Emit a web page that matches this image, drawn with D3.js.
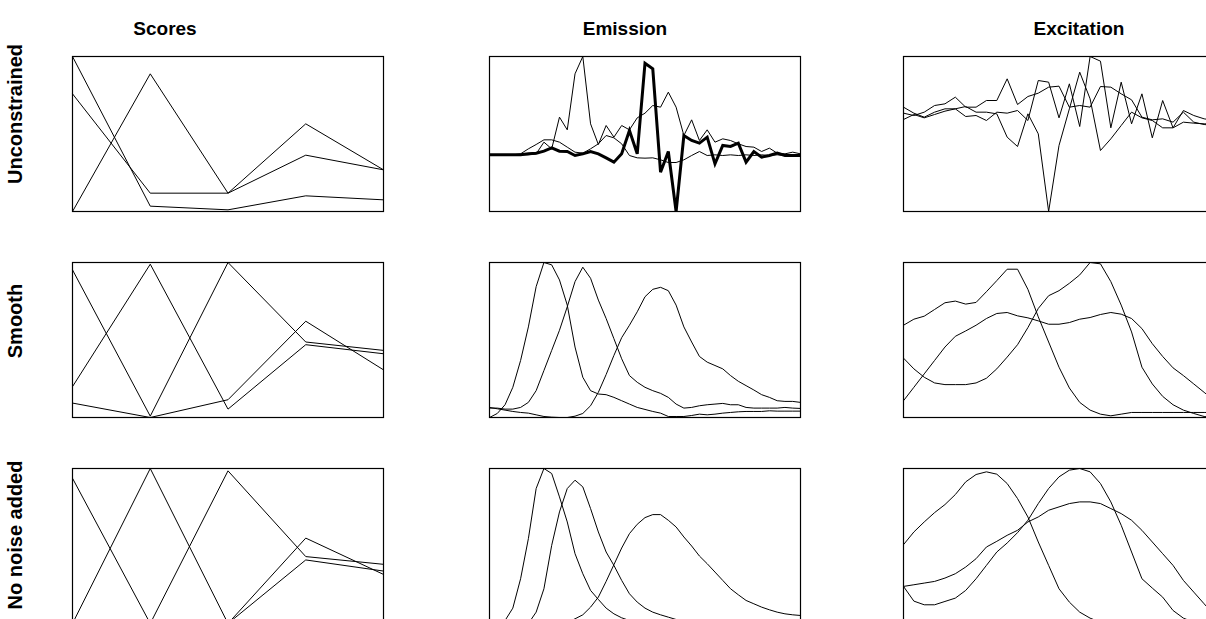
<!DOCTYPE html>
<html><head><meta charset="utf-8">
<script src="https://cdn.jsdelivr.net/npm/d3@7/dist/d3.min.js"></script>
<style>
body{margin:0;background:#fff;}
svg{display:block;}
text{font-family:"Liberation Sans",Arial,Helvetica,sans-serif;font-weight:bold;fill:#000;}
</style>
</head><body>
<svg id="chart" width="1206" height="619"></svg>
<script>
// ---------- labels ----------
const columnTitles = ["Scores", "Emission", "Excitation"];
const rowTitles = ["Unconstrained", "Smooth", "No noise added"];

// ---------- data (arbitrary intensity units, 3 components per panel) ----------
// Scores: 5 samples
const scoresUnconstrained = [
  [465, 16, 5, 47, 35],
  [353, 55, 55, 169, 125],
  [0, 413, 55, 263, 125]
];
const scoresSmooth = [
  [440, 4, 462, 225, 200],
  [92, 457, 25, 217, 190],
  [43, 0, 53, 287, 142]
];
const scoresNoNoise = [
  [432, 0, 454, 199, 176],
  [0, 461, 0, 254, 146],
  [0, 0, 0, 189, 156]
];

// Emission: 41 wavelengths
const emissionUnconstrained = [
  [170,170,170,170,170,173,175,181,191,181,180,168,173,180,173,161,148,173,243,173,445,428,118,180,0,228,213,205,223,143,198,195,205,148,180,163,168,175,168,168,168],
  [170,170,170,170,170,170,173,208,188,283,245,413,465,263,201,258,223,258,245,281,295,318,313,358,313,228,275,213,245,208,218,213,203,195,193,180,190,175,173,178,173],
  [170,170,170,170,173,188,201,215,215,208,193,178,175,188,203,228,221,203,168,161,160,161,155,147,147,155,168,180,168,170,168,170,168,170,168,170,168,170,168,170,170]
];
const emissionSmooth = [
  [0,12,38,90,170,270,390,462,455,410,335,210,120,80,70,68,60,50,40,30,24,18,13,3,3,3,6,10,8,10,13,15,17,18,18,18,20,19,19,19,19],
  [28,28,25,25,30,45,80,140,200,260,330,405,448,415,350,295,235,175,125,105,90,80,72,60,40,28,30,35,38,40,42,38,38,30,28,28,28,28,30,28,27],
  [30,26,22,18,15,13,8,3,1,0,0,4,12,35,75,128,185,238,275,315,360,382,388,378,335,270,225,182,165,155,145,125,108,95,82,68,60,50,48,48,45]
];
const emissionNoNoise = [
  [0,0,9,46,134,254,404,464,449,379,304,209,149,99,72,46,29,17,9,4,1,0,0,0,0,0,0,0,0,0,0,0,0,0,0,0,0,0,0,0,0],
  [0,0,0,0,0,0,34,104,234,334,404,429,409,344,274,214,174,129,89,64,46,34,26,19,12,7,4,2,0,0,0,0,0,0,0,0,0,0,0,0,0],
  [0,0,0,0,0,0,0,0,0,0,4,14,26,49,79,126,176,226,269,297,317,326,326,309,289,259,232,202,179,154,129,104,86,69,59,49,41,34,29,26,24]
];

// Excitation: 31 wavelengths
const excitationUnconstrained = [
  [313,295,283,298,308,308,285,288,273,298,295,303,273,393,388,281,383,255,465,451,251,388,263,353,221,333,251,303,288,278,273],
  [295,288,298,318,323,343,313,313,333,333,398,321,345,355,373,376,313,318,313,375,373,353,335,283,275,278,268,298,268,261,258],
  [276,291,281,291,301,308,315,298,298,293,223,195,293,233,0,198,308,418,338,183,218,258,298,281,273,251,251,268,265,263,263]
];
const excitationSmooth = [
  [275,293,302,322,342,347,338,343,375,408,442,442,382,300,225,150,88,45,22,10,5,10,15,15,15,15,15,15,15,15,15],
  [50,90,130,170,210,242,258,275,295,310,313,303,297,288,278,278,283,293,298,307,313,308,295,265,220,182,148,125,100,75,50],
  [177,145,120,103,98,98,98,103,117,145,180,217,268,325,363,378,400,425,462,458,405,335,255,150,100,63,38,22,12,3,0]
];
const excitationNoNoise = [
  [236,274,304,332,356,386,424,446,454,447,419,374,319,244,174,104,64,34,16,4,0,0,0,0,0,0,0,0,0,0,0],
  [111,67,56,56,66,76,99,134,174,214,241,272,309,359,404,439,459,464,454,419,364,294,214,134,106,79,39,16,4,0,0],
  [111,116,121,126,136,149,169,194,229,246,264,279,304,319,339,349,359,364,364,359,344,329,309,279,244,209,174,129,94,59,24]
];

const panelData = [
  [scoresUnconstrained, emissionUnconstrained, excitationUnconstrained],
  [scoresSmooth, emissionSmooth, excitationSmooth],
  [scoresNoNoise, emissionNoNoise, excitationNoNoise]
];

// ---------- layout / style ----------
const colLeft = [72, 489, 903];
const rowTop = [56, 262, 468];
const panelW = 311, panelH = 155;
const titleX = [165, 625, 1079];
const titleY = 35;
const rowLabelY = [114, 321, 535];
const rowLabelX = 22;
const titleFont = 19, rowFont = 20;
// the first emission component of the unconstrained fit is drawn heavy
const heavySeries = {row: 0, col: 1, series: 0, width: 3};

const svg = d3.select("#chart");

columnTitles.forEach((t, c) => {
  svg.append("text").attr("x", titleX[c]).attr("y", titleY)
    .attr("text-anchor", "middle").style("font-size", titleFont + "px").text(t);
});
rowTitles.forEach((t, r) => {
  svg.append("text")
    .attr("transform", `translate(${rowLabelX},${rowLabelY[r]}) rotate(-90)`)
    .attr("text-anchor", "middle").style("font-size", rowFont + "px").text(t);
});

panelData.forEach((row, r) => {
  row.forEach((series, c) => {
    const g = svg.append("g").attr("transform", `translate(${colLeft[c]},${rowTop[r]})`);
    const n = series[0].length;
    const x = d3.scaleLinear().domain([0, n - 1]).range([0.5, panelW + 0.5]);
    const y = d3.scaleLinear().domain(d3.extent(series.flat())).range([panelH + 0.5, 0.5]);
    const line = d3.line().x((d, i) => x(i)).y(d => y(d));
    series.forEach((s, k) => {
      const heavy = heavySeries.row === r && heavySeries.col === c && heavySeries.series === k;
      g.append("path").datum(s).attr("d", line)
        .attr("fill", "none").attr("stroke", "#000")
        .attr("stroke-width", heavy ? heavySeries.width : 1)
        .attr("stroke-linejoin", "miter");
    });
    g.append("rect").attr("x", 0.5).attr("y", 0.5)
      .attr("width", panelW).attr("height", panelH)
      .attr("fill", "none").attr("stroke", "#000").attr("stroke-width", 1.2);
  });
});
</script>
</body></html>
